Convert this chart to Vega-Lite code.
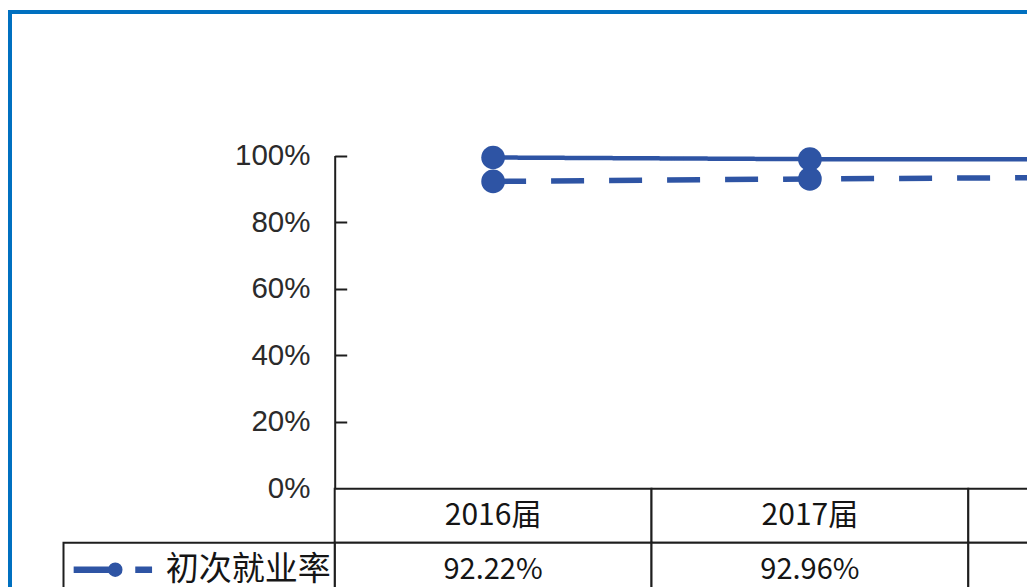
{
  "$schema": "https://vega.github.io/schema/vega-lite/v6.json",
  "autosize": "none",
  "width": 1100,
  "height": 650,
  "padding": {"left": 10, "top": 12, "right": 0, "bottom": 0},
  "background": "white",
  "config": {"view": {"stroke": "#0070C0", "strokeWidth": 4, "fill": "white"}},
  "datasets": {
    "rates": [
      {"cat": "2016届", "series": "初次就业率", "value": 0.9222},
      {"cat": "2017届", "series": "初次就业率", "value": 0.9296},
      {"cat": "2018届", "series": "初次就业率", "value": 0.935},
      {"cat": "2016届", "series": "年终就业率", "value": 0.994},
      {"cat": "2017届", "series": "年终就业率", "value": 0.989},
      {"cat": "2018届", "series": "年终就业率", "value": 0.989}
    ]
  },
  "data": {"name": "rates"},
  "resolve": {"scale": {"x": "independent", "y": "independent"}, "axis": {"x": "independent", "y": "independent"}},
  "layer": [
    {
      "transform": [{"filter": "datum.series === '初次就业率'"}],
      "mark": {"type": "rect", "fill": "white", "stroke": "#1e1e1e", "strokeWidth": 2},
      "encoding": {
        "x": {"field": "cat", "type": "nominal", "scale": {"type": "band", "domain": ["2016届", "2017届", "2018届"], "range": [324.7, 1275.1], "paddingInner": 0, "paddingOuter": 0}, "axis": null},
        "y": {"datum": "header", "type": "nominal", "scale": {"type": "band", "domain": ["header", "初次就业率", "年终就业率"], "range": [476.7, 638.7], "paddingInner": 0, "paddingOuter": 0}, "axis": null}
      }
    },
    {
      "mark": {"type": "rect", "fill": "white", "stroke": "#1e1e1e", "strokeWidth": 2},
      "encoding": {
        "x": {"field": "cat", "type": "nominal", "scale": {"type": "band", "domain": ["2016届", "2017届", "2018届"], "range": [324.7, 1275.1], "paddingInner": 0, "paddingOuter": 0}, "axis": null},
        "y": {"field": "series", "type": "nominal", "scale": {"type": "band", "domain": ["header", "初次就业率", "年终就业率"], "range": [476.7, 638.7], "paddingInner": 0, "paddingOuter": 0}, "axis": null}
      }
    },
    {
      "transform": [{"filter": "datum.cat === '2016届'"}],
      "mark": {"type": "rect", "fill": "white", "stroke": "#1e1e1e", "strokeWidth": 2},
      "encoding": {
        "x": {"datum": "legend", "type": "nominal", "scale": {"type": "band", "domain": ["legend"], "range": [53.5, 324.7], "paddingInner": 0, "paddingOuter": 0}, "axis": null},
        "y": {"field": "series", "type": "nominal", "scale": {"type": "band", "domain": ["header", "初次就业率", "年终就业率"], "range": [476.7, 638.7], "paddingInner": 0, "paddingOuter": 0}, "axis": null}
      }
    },
    {
      "transform": [{"filter": "datum.series === '初次就业率'"}],
      "mark": {"type": "text", "font": "Noto Sans CJK SC", "fontSize": 30, "color": "#151515", "baseline": "middle", "align": "center"},
      "encoding": {
        "text": {"field": "cat"},
        "x": {"field": "cat", "type": "nominal", "scale": {"type": "band", "domain": ["2016届", "2017届", "2018届"], "range": [324.7, 1275.1], "paddingInner": 0, "paddingOuter": 0}, "axis": null},
        "y": {"datum": "header", "type": "nominal", "scale": {"type": "band", "domain": ["header", "初次就业率", "年终就业率"], "range": [476.7, 638.7], "paddingInner": 0, "paddingOuter": 0}, "axis": null}
      }
    },
    {
      "mark": {"type": "text", "font": "Noto Sans CJK SC", "fontSize": 29, "color": "#151515", "baseline": "middle", "align": "center"},
      "encoding": {
        "text": {"field": "value", "type": "quantitative", "format": ".2%"},
        "x": {"field": "cat", "type": "nominal", "scale": {"type": "band", "domain": ["2016届", "2017届", "2018届"], "range": [324.7, 1275.1], "paddingInner": 0, "paddingOuter": 0}, "axis": null},
        "y": {"field": "series", "type": "nominal", "scale": {"type": "band", "domain": ["header", "初次就业率", "年终就业率"], "range": [476.7, 638.7], "paddingInner": 0, "paddingOuter": 0}, "axis": null}
      }
    },
    {
      "transform": [{"filter": "datum.cat === '2016届'"}],
      "mark": {"type": "text", "font": "Noto Sans CJK SC", "fontSize": 33, "color": "#151515", "baseline": "middle", "align": "right", "dx": -4},
      "encoding": {
        "text": {"field": "series"},
        "x": {"datum": "legend", "type": "nominal", "bandPosition": 1, "scale": {"type": "band", "domain": ["legend"], "range": [53.5, 324.7], "paddingInner": 0, "paddingOuter": 0}, "axis": null},
        "y": {"field": "series", "type": "nominal", "scale": {"type": "band", "domain": ["header", "初次就业率", "年终就业率"], "range": [476.7, 638.7], "paddingInner": 0, "paddingOuter": 0}, "axis": null}
      }
    },
    {
      "transform": [{"filter": "datum.cat === '2016届'"}],
      "mark": {"type": "point", "filled": true, "fill": "#2E54A4", "stroke": "#2E54A4", "strokeWidth": 6.5, "fillOpacity": 1, "strokeOpacity": 1, "size": 6400, "strokeCap": "butt"},
      "encoding": {
        "x": {"datum": "legend", "type": "nominal", "bandPosition": 0.182, "scale": {"type": "band", "domain": ["legend"], "range": [53.5, 324.7], "paddingInner": 0, "paddingOuter": 0}, "axis": null},
        "y": {"field": "series", "type": "nominal", "scale": {"type": "band", "domain": ["header", "初次就业率", "年终就业率"], "range": [476.7, 638.7], "paddingInner": 0, "paddingOuter": 0}, "axis": null},
        "shape": {"field": "series", "type": "nominal", "scale": {"domain": ["初次就业率", "年终就业率"], "range": ["M-0.98,0L0.06,0M0.56,0L0.98,0M-0.04,0A0.1,0.1,0,1,0,0.16,0A0.1,0.1,0,1,0,-0.04,0Z", "M-0.98,0L0.98,0M-0.04,0A0.1,0.1,0,1,0,0.16,0A0.1,0.1,0,1,0,-0.04,0Z"]}, "legend": null}
      }
    },
    {
      "mark": {"type": "line", "color": "#2E54A4", "strokeCap": "butt"},
      "encoding": {
        "x": {"field": "cat", "type": "nominal", "scale": {"type": "band", "domain": ["2016届", "2017届", "2018届"], "range": [324.7, 1275.1], "paddingInner": 0, "paddingOuter": 0}, "axis": null},
        "y": {
          "field": "value", "type": "quantitative",
          "scale": {"domain": [0, 1], "range": [476.5, 143.5], "nice": false, "zero": false},
          "axis": {
            "orient": "left", "offset": -324.7, "values": [0, 0.2, 0.4, 0.6, 0.8, 1], "format": ".0%",
            "domainColor": "#1e1e1e", "domainWidth": 2, "tickColor": "#1e1e1e", "tickWidth": 2, "tickSize": -12,
            "labelPadding": 36.7, "labelFont": "Liberation Sans", "labelFontSize": 29.5, "labelColor": "#2b2b2b",
            "labelBaseline": "middle", "grid": false, "title": null, "labelOverlap": false
          }
        },
        "strokeDash": {"field": "series", "type": "nominal", "scale": {"domain": ["初次就业率", "年终就业率"], "range": [[33, 25], [1, 0]]}, "legend": null},
        "strokeWidth": {"field": "series", "type": "ordinal", "scale": {"domain": ["初次就业率", "年终就业率"], "range": [5.5, 4.5]}, "legend": null}
      }
    },
    {
      "mark": {"type": "circle", "size": 560, "color": "#2E54A4", "opacity": 1},
      "encoding": {
        "x": {"field": "cat", "type": "nominal", "scale": {"type": "band", "domain": ["2016届", "2017届", "2018届"], "range": [324.7, 1275.1], "paddingInner": 0, "paddingOuter": 0}, "axis": null},
        "y": {"field": "value", "type": "quantitative", "scale": {"domain": [0, 1], "range": [476.5, 143.5], "nice": false, "zero": false}, "axis": null}
      }
    }
  ]
}
